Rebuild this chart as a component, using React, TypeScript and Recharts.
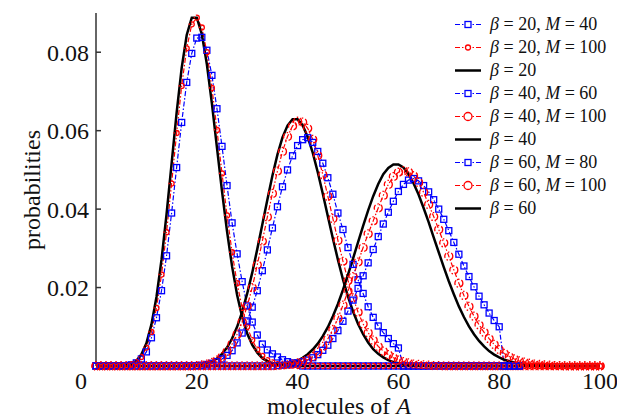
import React from "react";
import { LineChart, Line, XAxis, YAxis, Legend, Label } from "recharts";

// probabilities for 0..100 molecules
const BETA20_M40 = [
  0, 0, 0, 0, 0, 0, 0.0001, 0.0003, 0.0008, 0.0018,
  0.0036, 0.0072, 0.0123, 0.0192, 0.0281, 0.039, 0.0506, 0.0621, 0.0723, 0.0797,
  0.0836, 0.0838, 0.0805, 0.0741, 0.0656, 0.056, 0.046, 0.0365, 0.0286, 0.0215,
  0.0153, 0.0112, 0.0079, 0.0056, 0.0041, 0.0031, 0.0023, 0.0016, 0.0011, 0.0008,
  0.0005, 0, 0, 0, 0, 0, 0, 0, 0, 0,
  0, 0, 0, 0, 0, 0, 0, 0, 0, 0,
  0, 0, 0, 0, 0, 0, 0, 0, 0, 0,
  0, 0, 0, 0, 0, 0, 0, 0, 0, 0,
  0, 0, 0, 0, 0,
];
const BETA20_M100 = [
  0, 0, 0, 0, 0, 0, 0.0001, 0.0004, 0.001, 0.0023,
  0.0047, 0.0087, 0.0148, 0.0233, 0.0341, 0.0465, 0.0594, 0.0714, 0.081, 0.0871,
  0.0888, 0.0863, 0.08, 0.0709, 0.0602, 0.0491, 0.0384, 0.029, 0.0211, 0.0148,
  0.01, 0.0066, 0.0042, 0.0026, 0.0015, 0.0009, 0.0005, 0.0003, 0.0002, 0.0001,
  0, 0, 0, 0, 0, 0, 0, 0, 0, 0,
  0, 0, 0, 0, 0, 0, 0, 0, 0, 0,
  0, 0, 0, 0, 0, 0, 0, 0, 0, 0,
  0, 0, 0, 0, 0, 0, 0, 0, 0, 0,
  0, 0, 0, 0, 0, 0, 0, 0, 0, 0,
  0, 0, 0, 0, 0, 0, 0, 0, 0, 0,
  0,
];
const BETA20 = [
  0, 0, 0, 0, 0, 0.0001, 0.0002, 0.0005, 0.0013, 0.0029,
  0.0058, 0.0106, 0.0176, 0.0271, 0.0387, 0.0516, 0.0646, 0.076, 0.0844, 0.0888,
  0.0888, 0.0846, 0.0769, 0.0669, 0.0557, 0.0446, 0.0343, 0.0254, 0.0181, 0.0125,
  0.0083, 0.0054, 0.0034, 0.002, 0.0012, 0.0007, 0.0004, 0.0002, 0.0001, 0.0001,
  0, 0, 0, 0, 0, 0, 0, 0, 0, 0,
  0, 0, 0, 0, 0, 0, 0, 0, 0, 0,
  0, 0, 0, 0, 0, 0, 0, 0, 0, 0,
  0, 0, 0, 0, 0, 0, 0, 0, 0, 0,
  0, 0, 0, 0, 0, 0, 0, 0, 0, 0,
  0, 0, 0, 0, 0, 0, 0, 0, 0, 0,
  0,
];
const BETA40_M60 = [
  0, 0, 0, 0, 0, 0, 0, 0, 0, 0,
  0, 0, 0, 0, 0, 0, 0, 0, 0, 0,
  0.0001, 0.0002, 0.0004, 0.0007, 0.0011, 0.0018, 0.0027, 0.0039, 0.0059, 0.0084,
  0.0115, 0.015, 0.0192, 0.0243, 0.0296, 0.0352, 0.0406, 0.0457, 0.05, 0.0536,
  0.0562, 0.0577, 0.0582, 0.057, 0.0547, 0.0517, 0.048, 0.0438, 0.039, 0.0348,
  0.0302, 0.0259, 0.022, 0.0185, 0.0151, 0.0124, 0.0102, 0.0085, 0.007, 0.0057,
  0.0046, 0, 0, 0, 0, 0, 0, 0, 0, 0,
  0, 0, 0, 0, 0, 0, 0, 0, 0, 0,
  0, 0, 0, 0, 0,
];
const BETA40_M100 = [
  0, 0, 0, 0, 0, 0, 0, 0, 0, 0,
  0, 0, 0, 0, 0, 0, 0, 0, 0, 0,
  0.0001, 0.0003, 0.0005, 0.0009, 0.0015, 0.0024, 0.0037, 0.0056, 0.0081, 0.0113,
  0.0153, 0.02, 0.0258, 0.0318, 0.038, 0.044, 0.0497, 0.0547, 0.0585, 0.0612,
  0.0624, 0.0622, 0.0606, 0.0578, 0.0537, 0.0488, 0.0433, 0.0376, 0.032, 0.0267,
  0.0218, 0.0174, 0.0137, 0.0107, 0.0085, 0.0066, 0.005, 0.0038, 0.0029, 0.0021,
  0.0015, 0.0011, 0.0008, 0.0005, 0.0004, 0.0003, 0.0002, 0.0001, 0.0001, 0,
  0, 0, 0, 0, 0, 0, 0, 0, 0, 0,
  0, 0, 0, 0, 0, 0, 0, 0, 0, 0,
  0, 0, 0, 0, 0, 0, 0, 0, 0, 0,
  0,
];
const BETA40 = [
  0, 0, 0, 0, 0, 0, 0, 0, 0, 0,
  0, 0, 0, 0, 0, 0, 0, 0, 0.0001, 0.0001,
  0.0002, 0.0004, 0.0007, 0.0012, 0.0019, 0.0031, 0.0047, 0.007, 0.01, 0.0138,
  0.0185, 0.0238, 0.0298, 0.0361, 0.0424, 0.0485, 0.0539, 0.0583, 0.0613, 0.0629,
  0.0629, 0.0614, 0.0584, 0.0544, 0.0494, 0.0439, 0.0382, 0.0325, 0.0271, 0.0221,
  0.0177, 0.0139, 0.0107, 0.0081, 0.006, 0.0043, 0.0031, 0.0022, 0.0015, 0.001,
  0.0007, 0.0004, 0.0003, 0.0002, 0.0001, 0.0001, 0, 0, 0, 0,
  0, 0, 0, 0, 0, 0, 0, 0, 0, 0,
  0, 0, 0, 0, 0, 0, 0, 0, 0, 0,
  0, 0, 0, 0, 0, 0, 0, 0, 0, 0,
  0,
];
const BETA60_M80 = [
  0, 0, 0, 0, 0, 0, 0, 0, 0, 0,
  0, 0, 0, 0, 0, 0, 0, 0, 0, 0,
  0, 0, 0, 0, 0, 0, 0, 0, 0, 0,
  0, 0, 0, 0, 0, 0, 0.0001, 0.0002, 0.0003, 0.0005,
  0.0008, 0.0011, 0.0015, 0.0021, 0.0029, 0.004, 0.0053, 0.007, 0.009, 0.0114,
  0.014, 0.0168, 0.0198, 0.023, 0.0263, 0.0297, 0.033, 0.0362, 0.0392, 0.042,
  0.0445, 0.0463, 0.0474, 0.0478, 0.0472, 0.046, 0.0444, 0.0424, 0.04, 0.0374,
  0.0345, 0.0315, 0.0285, 0.0255, 0.0228, 0.0202, 0.0178, 0.0156, 0.0135, 0.0116,
  0.01, 0, 0, 0, 0,
];
const BETA60_M100 = [
  0, 0, 0, 0, 0, 0, 0, 0, 0, 0,
  0, 0, 0, 0, 0, 0, 0, 0, 0, 0,
  0, 0, 0, 0, 0, 0, 0, 0, 0, 0,
  0, 0, 0, 0, 0, 0, 0.0001, 0.0002, 0.0003, 0.0005,
  0.0008, 0.0011, 0.0016, 0.0024, 0.0035, 0.005, 0.0069, 0.0093, 0.0122, 0.0155,
  0.0191, 0.0228, 0.0265, 0.0302, 0.0337, 0.037, 0.0403, 0.0435, 0.0463, 0.0483,
  0.0494, 0.0498, 0.0495, 0.0485, 0.0468, 0.0443, 0.0412, 0.0381, 0.0348, 0.0314,
  0.028, 0.0245, 0.0211, 0.018, 0.0152, 0.0127, 0.0105, 0.0086, 0.007, 0.0055,
  0.0042, 0.0032, 0.0024, 0.0018, 0.0013, 0.001, 0.0007, 0.0005, 0.0004, 0.0003,
  0.0002, 0.0001, 0.0001, 0, 0, 0, 0, 0, 0, 0,
  0,
];
const BETA60 = [
  0, 0, 0, 0, 0, 0, 0, 0, 0, 0,
  0, 0, 0, 0, 0, 0, 0, 0, 0, 0,
  0, 0, 0, 0, 0, 0, 0, 0, 0, 0,
  0, 0, 0, 0.0001, 0.0001, 0.0002, 0.0002, 0.0004, 0.0006, 0.001,
  0.0014, 0.0021, 0.003, 0.0042, 0.0057, 0.0076, 0.0099, 0.0127, 0.0158, 0.0194,
  0.0233, 0.0274, 0.0316, 0.0357, 0.0397, 0.0433, 0.0464, 0.0489, 0.0505, 0.0514,
  0.0514, 0.0506, 0.0489, 0.0466, 0.0437, 0.0403, 0.0367, 0.0328, 0.029, 0.0252,
  0.0216, 0.0183, 0.0152, 0.0125, 0.0101, 0.0081, 0.0064, 0.005, 0.0038, 0.0029,
  0.0022, 0.0016, 0.0012, 0.0009, 0.0006, 0.0004, 0.0003, 0.0002, 0.0001, 0.0001,
  0.0001, 0, 0, 0, 0, 0, 0, 0, 0, 0,
  0,
];

const X_TICKS = [0, 20, 40, 60, 80, 100];
const Y_TICKS = [0.02, 0.04, 0.06, 0.08];

const FONT = "'Liberation Serif', 'Times New Roman', serif";
const BLUE = "#0000ff";
const RED = "#ff0000";

type Series = {
  key: string;
  values: number[];
  beta: number;
  m?: number;
  kind: "square" | "circle" | "solid";
  r?: number;
};

const SERIES: Series[] = [
  { key: "b20m40", values: BETA20_M40, beta: 20, m: 40, kind: "square" },
  { key: "b20m100", values: BETA20_M100, beta: 20, m: 100, kind: "circle", r: 2.5 },
  { key: "b20", values: BETA20, beta: 20, kind: "solid" },
  { key: "b40m60", values: BETA40_M60, beta: 40, m: 60, kind: "square" },
  { key: "b40m100", values: BETA40_M100, beta: 40, m: 100, kind: "circle", r: 4 },
  { key: "b40", values: BETA40, beta: 40, kind: "solid" },
  { key: "b60m80", values: BETA60_M80, beta: 60, m: 80, kind: "square" },
  { key: "b60m100", values: BETA60_M100, beta: 60, m: 100, kind: "circle", r: 4 },
  { key: "b60", values: BETA60, beta: 60, kind: "solid" },
];

const data = BETA20.map((_, n) => {
  const row: Record<string, number | null> = { n };
  for (const s of SERIES) row[s.key] = s.values[n] ?? null;
  return row;
});

const squareDot = (props: any) => {
  const { cx, cy, index } = props;
  if (cx == null || cy == null) return <g key={index} />;
  return (
    <rect
      key={index}
      x={cx - 3}
      y={cy - 3}
      width={6}
      height={6}
      fill="none"
      stroke={BLUE}
      strokeWidth={1.3}
    />
  );
};

const XTick = ({ x, y, payload }: any) => (
  <text
    x={payload.value === 0 ? x - 15 : x}
    y={y}
    dy="0.35em"
    textAnchor="middle"
    fontFamily={FONT}
    fontSize={24}
    fill="#111"
  >
    {payload.value}
  </text>
);

const YTick = ({ x, y, payload }: any) => (
  <g>
    <line x1={x} x2={x + 5} y1={y} y2={y} stroke="#333" strokeWidth={1.5} />
    <text
      x={x - 7}
      y={y}
      dy="0.35em"
      textAnchor="end"
      fontFamily={FONT}
      fontSize={24}
      fill="#111"
    >
      {payload.value}
    </text>
  </g>
);

const LegendSample = ({ s }: { s: Series }) => {
  if (s.kind === "solid") {
    return (
      <svg width={30} height={23}>
        <line x1={2} x2={28} y1={11.5} y2={11.5} stroke="#000" strokeWidth={2.5} />
      </svg>
    );
  }
  const color = s.kind === "square" ? BLUE : RED;
  return (
    <svg width={30} height={23}>
      <line
        x1={2}
        x2={28}
        y1={11.5}
        y2={11.5}
        stroke={color}
        strokeWidth={1.2}
        strokeDasharray="5 2 1.5 2"
      />
      {s.kind === "square" ? (
        <rect x={12} y={8.5} width={6} height={6} fill="white" stroke={BLUE} strokeWidth={1.3} />
      ) : (
        <circle cx={15} cy={11.5} r={s.r} fill="white" stroke={RED} strokeWidth={1.3} />
      )}
    </svg>
  );
};

const renderLegend = () => (
  <div style={{ fontFamily: FONT, fontSize: 18, color: "#111" }}>
    {SERIES.map((s) => (
      <div key={s.key} style={{ display: "flex", alignItems: "center", height: 23 }}>
        <LegendSample s={s} />
        <span style={{ marginLeft: 7, whiteSpace: "nowrap" }}>
          <i>β</i> = {s.beta}
          {s.m ? (
            <>
              , <i>M</i> = {s.m}
            </>
          ) : null}
        </span>
      </div>
    ))}
  </div>
);

export default function App() {
  return (
    <div style={{ position: "absolute", left: 0, top: 0, background: "white" }}>
      <LineChart
        width={617}
        height={419}
        data={data}
        margin={{ top: 13, right: 17, bottom: 0, left: 0 }}
      >
        <XAxis
          dataKey="n"
          type="number"
          domain={[0, 100]}
          ticks={X_TICKS}
          height={53}
          axisLine={false}
          tickLine={false}
          tickSize={0}
          tickMargin={15}
          tick={<XTick />}
        >
          <Label
            content={() => (
              <text x={339} y={414} textAnchor="middle" fontFamily={FONT} fontSize={24} fill="#111">
                molecules of <tspan fontStyle="italic">A</tspan>
              </text>
            )}
          />
        </XAxis>
        <YAxis
          domain={[0, 0.09]}
          ticks={Y_TICKS}
          width={96}
          axisLine={{ stroke: "#333", strokeWidth: 1.5 }}
          tickLine={false}
          tickSize={0}
          tickMargin={0}
          tick={<YTick />}
        >
          <Label
            content={() => (
              <text
                x={32}
                y={190}
                transform="rotate(-90, 32, 190)"
                textAnchor="middle"
                dy="0.35em"
                fontFamily={FONT}
                fontSize={24}
                fill="#111"
              >
                probabilities
              </text>
            )}
          />
        </YAxis>
        <Legend
          layout="vertical"
          align="center"
          verticalAlign="middle"
          wrapperStyle={{ left: 453, top: 13, width: 160 }}
          content={renderLegend}
        />
        {SERIES.map((s) =>
          s.kind === "solid" ? (
            <Line
              key={s.key}
              dataKey={s.key}
              type="linear"
              stroke="#000"
              strokeWidth={2.5}
              dot={false}
              isAnimationActive={false}
            />
          ) : s.kind === "square" ? (
            <Line
              key={s.key}
              dataKey={s.key}
              type="linear"
              stroke={BLUE}
              strokeWidth={1.2}
              strokeDasharray="5 2 1.5 2"
              dot={squareDot}
              isAnimationActive={false}
            />
          ) : (
            <Line
              key={s.key}
              dataKey={s.key}
              type="linear"
              stroke={RED}
              strokeWidth={1.2}
              strokeDasharray="5 2 1.5 2"
              dot={{ r: s.r, fill: "none", stroke: RED, strokeWidth: 1.3 }}
              isAnimationActive={false}
            />
          )
        )}
      </LineChart>
    </div>
  );
}
